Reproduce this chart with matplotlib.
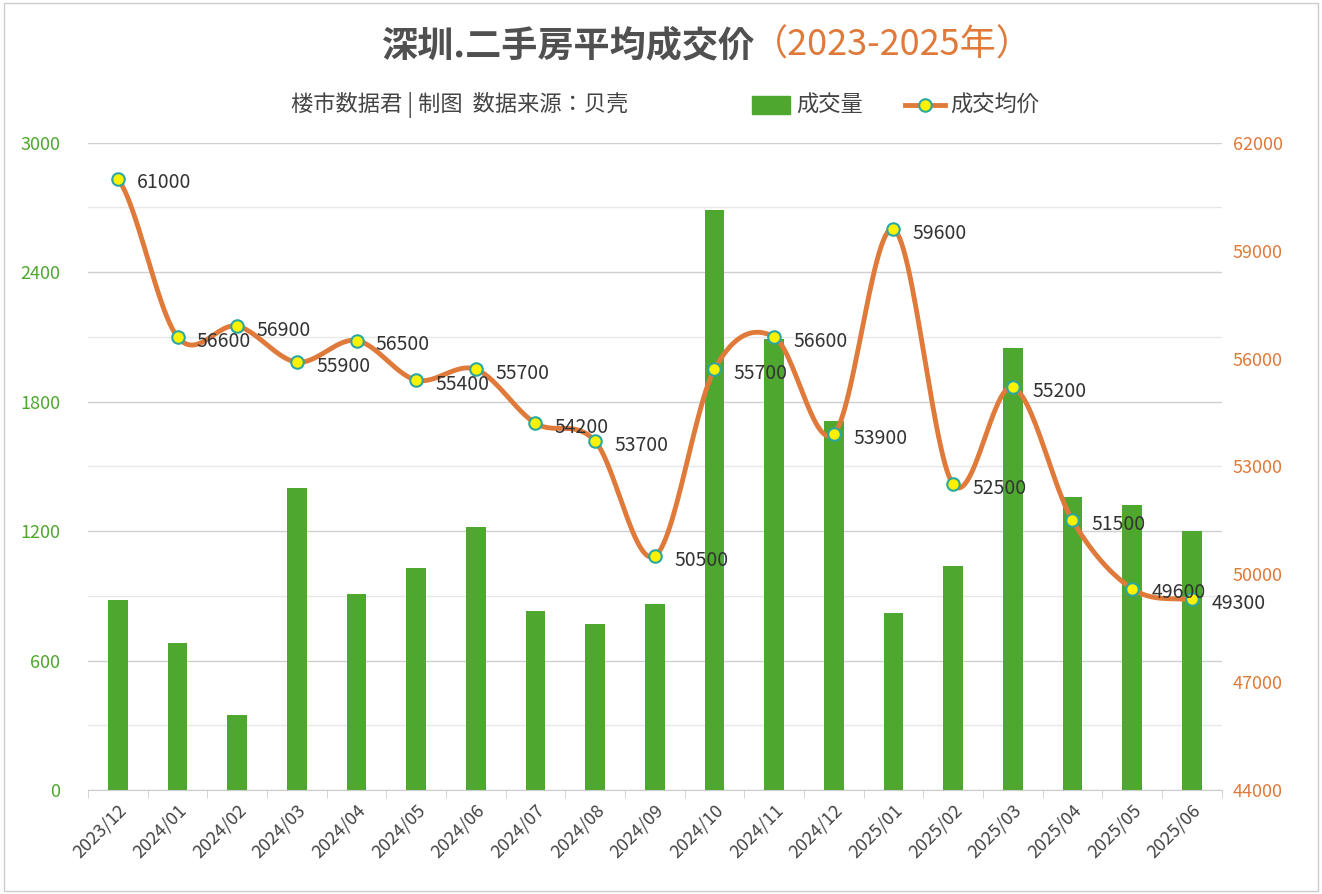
import matplotlib
matplotlib.use("Agg")
import matplotlib.pyplot as plt
import numpy as np
from matplotlib.patches import Rectangle
from matplotlib import font_manager as fm

cjk = None
for f in fm.findSystemFonts():
    if 'CJK' in f or 'cjk' in f.lower():
        cjk = f
        if 'SC' in f or 'sc' in f.lower():
            break
if cjk:
    fm.fontManager.addfont(cjk)
    name = fm.FontProperties(fname=cjk).get_name()
    plt.rcParams['font.family'] = [name, 'DejaVu Sans']
else:
    plt.rcParams['font.family'] = ['Noto Sans CJK SC', 'Noto Sans CJK JP', 'DejaVu Sans']

months = ["2023/12","2024/01","2024/02","2024/03","2024/04","2024/05","2024/06","2024/07","2024/08","2024/09",
          "2024/10","2024/11","2024/12","2025/01","2025/02","2025/03","2025/04","2025/05","2025/06"]
volume = [880,680,350,1400,910,1030,1220,830,770,860,2690,2090,1710,820,1040,2050,1360,1320,1200]
price = [61000,56600,56900,55900,56500,55400,55700,54200,53700,50500,55700,56600,53900,59600,52500,55200,51500,49600,49300]

GREEN = "#4EA72E"; ORANGE = "#E07A3A"

fig = plt.figure(figsize=(13.22, 8.94), dpi=100)
fig.patches.append(Rectangle((0.003,0.003),0.994,0.994,transform=fig.transFigure,fill=False,ec="#cccccc",lw=1))
ax = fig.add_axes([0.0666, 0.1163, 0.8574, 0.724])
ax2 = ax.twinx()
x = np.arange(len(months))
ax.bar(x, volume, width=0.33, color=GREEN, zorder=2)
ax.set_ylim(0, 3000)
ax.set_xlim(-0.5, len(months)-0.5)
ax.set_yticks(range(0, 3001, 600))
ax.set_yticks(range(300, 3000, 600), minor=True)
ax.grid(axis='y', which='major', color='#d0d0d0', lw=1, zorder=0)
ax.grid(axis='y', which='minor', color='#e8e8e8', lw=1, zorder=0)
ax.set_axisbelow(True)
ax.tick_params(axis='y', colors=GREEN, labelsize=13, length=0, pad=20, which='both')
ax.set_xticks(x)
ax.set_xticklabels(months, rotation=45, ha='right', rotation_mode='anchor', fontsize=13, color='#444444')
ax.tick_params(axis='x', length=0, pad=8)
ax.set_xticks(np.arange(-0.5, len(months), 1), minor=True)
ax.tick_params(axis='x', which='minor', length=6, color='#cccccc')
for s in ['top','left','right']:
    ax.spines[s].set_visible(False)
    ax2.spines[s].set_visible(False)
ax.spines['bottom'].set_color('#cccccc'); ax2.spines['bottom'].set_visible(False)

P = np.array(price, float)
xs, ys = [], []
for i in range(len(P)-1):
    p0 = P[i-1] if i > 0 else P[i]; p3 = P[i+2] if i+2 < len(P) else P[i+1]
    p1, p2 = P[i], P[i+1]
    t = np.linspace(0, 1, 30)
    y = 0.5*((2*p1) + (-p0+p2)*t + (2*p0-5*p1+4*p2-p3)*t**2 + (-p0+3*p1-3*p2+p3)*t**3)
    xs.extend(i + t); ys.extend(y)
ax2.plot(xs, ys, color=ORANGE, lw=3.5, zorder=3)
ax2.plot(x, price, 'o', ms=9, mfc='#FFF200', mec='#2AA8A0', mew=1.5, zorder=4)
for xi, p in zip(x, price):
    ax2.annotate(str(p), (xi, p), xytext=(14, -3), textcoords='offset points', fontsize=14,
                 color='#333333', va='center', ha='left', zorder=5)
ax2.set_ylim(44000, 62000)
ax2.set_yticks(range(44000, 62001, 3000))
ax2.tick_params(axis='y', colors=ORANGE, labelsize=13, length=0, pad=8)

fig.text(755/1322, 1-46/894, "深圳.二手房平均成交价", ha='right', va='center', fontsize=26, color='#505050', fontweight='bold')
fig.text(752/1322, 1-46/894, "（2023-2025年）", ha='left', va='center', fontsize=26, color=ORANGE)
fig.text(460/1322, 1-105/894, "楼市数据君 | 制图  数据来源：贝壳", ha='center', va='center', fontsize=16, color='#444444')
fig.patches.append(Rectangle((752/1322, 1-114/894), 38/1322, 18/894, transform=fig.transFigure, color=GREEN))
fig.text(796/1322, 1-105/894, "成交量", ha='left', va='center', fontsize=16, color='#444444')
fig.lines.append(plt.Line2D([905/1322, 945/1322], [1-105/894]*2, transform=fig.transFigure, color=ORANGE, lw=3.5))
fig.lines.append(plt.Line2D([925/1322], [1-105/894], transform=fig.transFigure, marker='o', ms=9, mfc='#FFF200', mec='#2AA8A0', mew=1.5))
fig.text(950/1322, 1-105/894, "成交均价", ha='left', va='center', fontsize=16, color='#444444')

fig.savefig("out.png", dpi=100, facecolor='white')
